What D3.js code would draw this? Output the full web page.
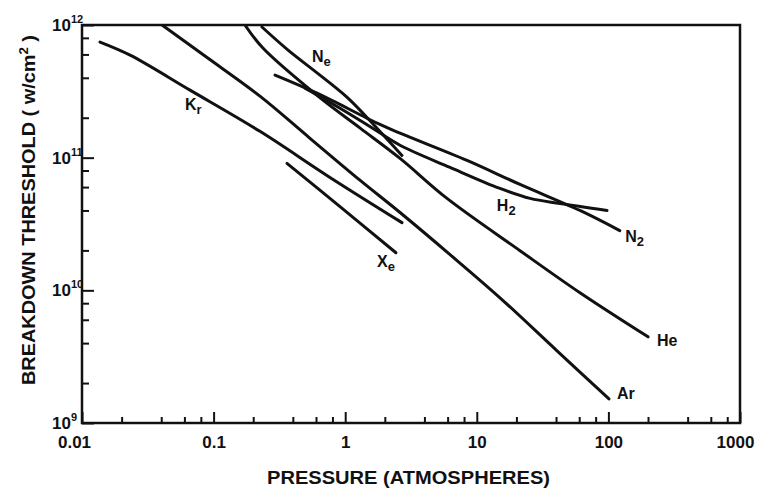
<!DOCTYPE html>
<html><head><meta charset="utf-8">
<script src="https://cdn.jsdelivr.net/npm/d3@7"></script>
<style>body{margin:0;background:#fff}text{font-family:"Liberation Sans",Arial,sans-serif;font-weight:bold;fill:#111}</style>
</head><body><svg id="c" width="759" height="493"></svg>
<script>
// ---- data (pressure in atm, threshold in W/cm^2) ----
const xTickValues = [0.01, 0.1, 1, 10, 100, 1000];
const xTickLabels = ["0.01", "0.1", "1", "10", "100", "1000"];
const yTickValues = [1e9, 1e10, 1e11, 1e12];
const yTickExponents = ["9", "10", "11", "12"];
const minorMultipliers = [2, 4, 6, 8];

const Kr = [[0.0137,7.44e11],[0.0232,5.93e11],[0.0662,3.23e11],[0.225,1.58e11],[0.766,7.10e10],[2.70,3.24e10]];
const Xe = [[0.361,9.06e10],[0.913,4.28e10],[2.43,1.92e10]];
const Ar = [[0.0406,1e12],[0.086,5.83e11],[0.225,2.91e11],[0.54,1.40e11],[1.30,6.74e10],[2.61,3.86e10],[6.26,1.86e10],[15.0,8.79e9],[40.7,3.50e9],[101,1.52e9]];
const He = [[0.173,1e12],[0.237,6.70e11],[0.621,2.91e11],[1.30,1.67e11],[2.61,9.88e10],[5.94,4.93e10],[21.3,1.99e10],[60.8,9.59e9],[200,4.46e9]];
const Ne = [[0.233,9.66e11],[0.368,6.47e11],[0.643,4.19e11],[1.03,2.86e11],[1.41,2.09e11],[2.70,1.04e11]];
const N2 = [[0.293,4.19e11],[0.611,3.06e11],[1.75,1.82e11],[2.61,1.53e11],[8.43,9.54e10],[21.3,6.28e10],[60.8,4.00e10],[122,2.82e10]];
const H2 = [[0.495,3.34e11],[0.913,2.36e11],[1.54,1.72e11],[2.61,1.24e11],[6.26,8.45e10],[15.0,5.86e10],[25.4,4.93e10],[42.9,4.51e10],[97.6,4.00e10]];

const seriesList = [Kr, Xe, Ar, He, Ne, N2, H2];
// curve labels: main letters, small part, lowered flag, anchor (pressure, threshold)
const labelMain = ["K", "X", "Ar", "He", "N", "N", "H"];
const labelSmall = ["r", "e", "", "", "e", "2", "2"];
const labelSub = [true, true, false, false, true, true, true];
const labelAt = [[0.0606,2.28e11],[1.745,1.51e10],[116,1.52e9],[234,3.81e9],[0.559,5.25e11],[134,2.33e10],[14.2,3.93e10]];

// ---- layout ----
const svg = d3.select("#c");
const L = 82, R = 740, T = 25, B = 423;
const x = d3.scaleLog().domain([0.01, 1000]).range([L, R]);
const y = d3.scaleLog().domain([1e9, 1e12]).range([B, T]);

const minorX = [], minorY = [];
d3.range(-2, 3).forEach(e => minorMultipliers.forEach(m => minorX.push(m * Math.pow(10, e))));
d3.range(9, 12).forEach(e => minorMultipliers.forEach(m => minorY.push(m * Math.pow(10, e))));

svg.append("defs").append("clipPath").attr("id", "clip")
  .append("rect").attr("x", L).attr("y", T).attr("width", R - L).attr("height", B - T);

// curves
const line = d3.line().x(d => x(d[0])).y(d => y(d[1])).curve(d3.curveCatmullRom.alpha(0.5));
svg.append("g").attr("clip-path", "url(#clip)")
  .selectAll("path").data(seriesList).join("path")
  .attr("d", line).attr("fill", "none").attr("stroke", "#111")
  .attr("stroke-width", 3).attr("stroke-linecap", "round").attr("stroke-linejoin", "round");

// frame
svg.append("rect").attr("x", L).attr("y", T).attr("width", R - L).attr("height", B - T)
  .attr("fill", "none").attr("stroke", "#111").attr("stroke-width", 2.5);

// x axis
const gx = svg.append("g").attr("transform", `translate(0,${B})`);
gx.call(d3.axisBottom(x).tickValues(minorX).tickSize(-6).tickFormat(""));
const gx2 = svg.append("g").attr("transform", `translate(0,${B})`);
gx2.call(d3.axisBottom(x).tickValues(xTickValues).tickSize(-11).tickPadding(13)
  .tickFormat((d, i) => xTickLabels[i]));
// y axis
const gy = svg.append("g").attr("transform", `translate(${L},0)`);
gy.call(d3.axisLeft(y).tickValues(minorY).tickSize(-7).tickFormat(""));
const gy2 = svg.append("g").attr("transform", `translate(${L},0)`);
gy2.call(d3.axisLeft(y).tickValues(yTickValues).tickSize(-12).tickFormat(""));
[gx, gx2, gy, gy2].forEach(g => {
  g.select(".domain").remove();
  g.selectAll(".tick line").attr("stroke", "#111").attr("stroke-width", 2);
});
gx2.selectAll(".tick text").attr("font-size", 17).attr("fill", "#111")
  .attr("dx", (d, i) => i === 0 ? -8 : (i === xTickValues.length - 1 ? -5 : 0))
  .style("font-family", "'Liberation Sans',Arial,sans-serif").style("font-weight", "bold");

// y tick labels 10^n
yTickValues.forEach((v, i) => {
  svg.append("text").attr("x", 71).attr("y", y(v) + 6).attr("text-anchor", "end").attr("font-size", 17).text("10");
  svg.append("text").attr("x", 71).attr("y", y(v) - 2).attr("font-size", 11).text(yTickExponents[i]);
});

// axis titles
svg.append("text").attr("x", 267).attr("y", 484).attr("font-size", 18)
  .attr("textLength", 283).attr("lengthAdjust", "spacingAndGlyphs").text("PRESSURE (ATMOSPHERES)");
const yt = svg.append("text").attr("transform", "translate(35,385) rotate(-90)").attr("font-size", 18)
  .attr("textLength", 350).attr("lengthAdjust", "spacingAndGlyphs");
yt.append("tspan").text("BREAKDOWN THRESHOLD ( w/cm");
yt.append("tspan").attr("font-size", 12).attr("dy", -7).text("2");
yt.append("tspan").attr("dy", 7).text(" )");

// curve labels
labelAt.forEach((p, i) => {
  const t = svg.append("text").attr("x", x(p[0])).attr("y", y(p[1])).attr("font-size", 16);
  t.append("tspan").text(labelMain[i]);
  if (labelSmall[i]) t.append("tspan").attr("font-size", 13).attr("dy", labelSub[i] ? 4 : 0).text(labelSmall[i]);
});
</script></body></html>
